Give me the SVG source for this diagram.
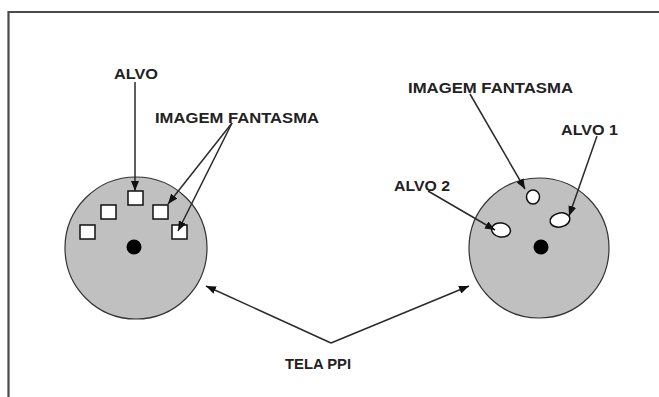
<svg xmlns="http://www.w3.org/2000/svg" width="659" height="397" viewBox="0 0 659 397">
<style>
.lbl{font-family:"Liberation Sans",Arial,sans-serif;font-weight:bold;font-size:14.5px;fill:#222}
.scope{fill:#c0c0c0;stroke:#333;stroke-width:1.2}
.blip{fill:#fff;stroke:#111;stroke-width:1.5}
.dot{fill:#000}
.conn{stroke:#2a2a2a;stroke-width:1.5;fill:none;marker-end:url(#ah)}
</style>
<defs>
<marker id="ah" markerUnits="userSpaceOnUse" markerWidth="10" markerHeight="8" refX="10" refY="4" orient="auto">
<path d="M0,0 L10,4 L0,8 z" fill="#111"/>
</marker>
</defs>
<rect width="659" height="397" fill="#fff"/>
<g id="frame">
<path d="M8.5,397 L8.5,12 L659,12" fill="none" stroke="#4a4a4a" stroke-width="2.2"/>
</g>
<g id="scope-left">
<circle class="scope" cx="136" cy="248" r="71"/>
<circle class="dot" cx="134" cy="247" r="7.5"/>
<rect class="blip" x="128" y="191" width="15" height="14"/>
<rect class="blip" x="101" y="205" width="15" height="14"/>
<rect class="blip" x="153" y="205" width="15" height="14"/>
<rect class="blip" x="80" y="225" width="15" height="14"/>
<rect class="blip" x="172" y="225" width="15" height="14"/>
</g>
<g id="scope-right">
<circle class="scope" cx="539" cy="248" r="70"/>
<circle class="dot" cx="541" cy="247" r="7.5"/>
<ellipse class="blip" cx="533" cy="197" rx="6.5" ry="7"/>
<ellipse class="blip" cx="560" cy="220" rx="10" ry="7" transform="rotate(-12 560 220)"/>
<ellipse class="blip" cx="501" cy="230" rx="9.5" ry="7" transform="rotate(10 501 230)"/>
</g>
<g id="label-alvo"><text class="lbl" x="114" y="79" textLength="44" lengthAdjust="spacingAndGlyphs">ALVO</text></g>
<g id="label-ghost-left"><text class="lbl" x="155" y="122.5" textLength="164" lengthAdjust="spacingAndGlyphs">IMAGEM FANTASMA</text></g>
<g id="label-ghost-right"><text class="lbl" x="408" y="93" textLength="165" lengthAdjust="spacingAndGlyphs">IMAGEM FANTASMA</text></g>
<g id="label-alvo1"><text class="lbl" x="561" y="135" textLength="57" lengthAdjust="spacingAndGlyphs">ALVO 1</text></g>
<g id="label-alvo2"><text class="lbl" x="394" y="191" textLength="56" lengthAdjust="spacingAndGlyphs">ALVO 2</text></g>
<g id="label-tela"><text class="lbl" x="285" y="369" textLength="66" lengthAdjust="spacingAndGlyphs">TELA PPI</text></g>
<g id="connectors">
<line class="conn" x1="135" y1="82" x2="135" y2="191"/>
<line class="conn" x1="232" y1="123" x2="168" y2="204"/>
<line class="conn" x1="232" y1="123" x2="178" y2="231"/>
<line class="conn" x1="470" y1="94" x2="525" y2="189"/>
<line class="conn" x1="597" y1="136" x2="569" y2="216"/>
<line class="conn" x1="428" y1="191" x2="495" y2="230"/>
<line class="conn" x1="331" y1="343" x2="206" y2="286"/>
<line class="conn" x1="331" y1="343" x2="469" y2="286"/>
</g>
</svg>
